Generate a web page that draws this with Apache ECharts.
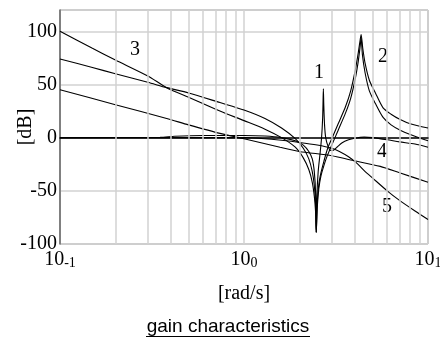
<!DOCTYPE html>
<html>
<head>
<meta charset="utf-8">
<script src="https://cdn.jsdelivr.net/npm/echarts@6.0.0/dist/echarts.min.js"></script>
<style>
  html, body { margin: 0; padding: 0; background: #fff; }
  #chart { width: 440px; height: 338px; }
</style>
</head>
<body>
<div id="chart"></div>
<script>
// 频率 [rad/s] 与增益 [dB]
const curve1Freq = [0.1, 0.35, 0.42, 0.6, 1.0, 1.3, 1.6, 1.9, 2.1, 2.25, 2.35, 2.41, 2.45, 2.47, 2.49, 2.53, 2.59, 2.64, 2.675, 2.69, 2.70, 2.715, 2.74, 2.78, 2.86, 2.95, 3.05, 3.2, 3.4, 3.7, 4.0, 4.5, 5.0, 6.0, 7.0, 8.5, 10]
const curve1Gain = [0, 0.3, 1.3, 2, 2, 1.5, 0, -3, -7, -13, -20, -32, -52, -89, -55, -32, -15, 0, 18, 35, 46, 30, 12, 0, -8, -12, -12, -9, -5, -2, -0.5, 0.5, 0, -2, -4, -6, -9]

const curve2Freq = [0.1, 0.15, 0.2, 0.3, 0.38, 0.5, 0.74, 1.0, 1.3, 1.6, 1.9, 2.1, 2.25, 2.35, 2.41, 2.45, 2.47, 2.5, 2.55, 2.62, 2.72, 2.85, 3.0, 3.25, 3.56, 3.8, 4.03, 4.18, 4.28, 4.33, 4.42, 4.55, 4.8, 5.18, 5.7, 6.3, 7.06, 8.0, 10]
const curve2Gain = [74, 66, 60, 52, 47, 42, 33, 26, 18, 9, -1, -10, -20, -32, -45, -62, -89, -62, -44, -33, -22, -10, -1, 13, 29, 44, 64, 80, 92, 97, 84, 70, 54, 42, 28, 22, 17, 13, 9]

const curve3Freq = [0.1, 0.15, 0.2, 0.3, 0.38, 0.5, 0.74, 1.0, 1.3, 1.6, 1.9, 2.1, 2.25, 2.35, 2.41, 2.45, 2.47, 2.5, 2.55, 2.62, 2.72, 2.85, 3.0, 3.25, 3.56, 3.8, 4.03, 4.18, 4.28, 4.33, 4.4, 4.55, 4.8, 5.18, 5.7, 6.3, 7.06, 8.0, 10]
const curve3Gain = [100, 84, 73, 58, 47, 38, 25, 16, 8, 0, -9, -19, -30, -42, -55, -70, -89, -66, -48, -36, -26, -16, -7, 7, 23, 37, 56, 72, 86, 94, 78, 61, 44, 32, 19, 12, 7, 3, -3]

const curve4Freq = [0.1, 0.2, 0.38, 0.5, 0.74, 1.0, 1.57, 2.0, 3.0, 3.8, 5.5, 7.0, 10]
const curve4Gain = [45, 31, 18, 12, 4, -1, -9, -13, -17, -21, -27, -33, -42]

const curve5Freq = [0.1, 0.5, 1.0, 1.3, 1.6, 2.0, 2.5, 3.0, 3.3, 3.7, 4.1, 4.5, 5.0, 6.0, 7.0, 8.5, 10]
const curve5Gain = [0, 0, 0, -1, -2.5, -4.5, -7, -10, -13, -18, -24, -31, -38, -50, -59, -69, -77]

// 对数轴的细分网格 (2..9 倍)
const minorGridFreq = [0.2, 0.3, 0.4, 0.5, 0.6, 0.7, 0.8, 0.9, 2, 3, 4, 5, 6, 7, 8, 9]

const serif = '"Liberation Serif", "DejaVu Serif", serif'
const gridColor = '#d2d2d2'

const zip = (xs, ys) => xs.map((x, i) => [x, ys[i]])

const curves = [
  zip(curve1Freq, curve1Gain),
  zip(curve2Freq, curve2Gain),
  zip(curve3Freq, curve3Gain),
  zip(curve4Freq, curve4Gain),
  zip(curve5Freq, curve5Gain)
]

const chart = echarts.init(document.getElementById('chart'))

const curveLabel = (text, x, y) => ({
  type: 'text',
  x: x,
  y: y,
  style: {
    text: text,
    font: '20px ' + serif,
    fill: '#000',
    align: 'center',
    verticalAlign: 'middle'
  }
})

const option = {
  animation: false,
  grid: {
    left: 60,
    right: 12,
    top: 10,
    bottom: 94,
    containLabel: false,
    outerBoundsMode: 'none',
    show: true,
    borderColor: '#8c8c8c',
    borderWidth: 1
  },
  xAxis: {
    type: 'log',
    logBase: 10,
    min: 0.1,
    max: 10,
    splitNumber: 2,
    axisLine: { lineStyle: { color: '#000', width: 1.5 } },
    axisTick: { show: false },
    splitLine: { show: true, lineStyle: { color: gridColor, width: 1.5 } },
    axisLabel: {
      margin: 6,
      formatter: function (v) {
        const e = Math.round(Math.log10(v))
        return '{b|10}{e|' + e + '}'
      },
      rich: {
        b: { fontFamily: serif, fontSize: 20, color: '#000', verticalAlign: 'bottom', lineHeight: 20 },
        e: { fontFamily: serif, fontSize: 14, color: '#000', verticalAlign: 'bottom', lineHeight: 20 }
      }
    },
    name: '[rad/s]',
    nameLocation: 'middle',
    nameGap: 40,
    nameMoveOverlap: false,
    nameTextStyle: { fontFamily: serif, fontSize: 20, color: '#000' }
  },
  yAxis: {
    type: 'value',
    min: -100,
    max: 120,
    interval: 50,
    axisLine: { show: true, lineStyle: { color: '#666', width: 1.5 } },
    axisTick: { show: false },
    splitLine: { show: true, lineStyle: { color: gridColor, width: 1.5 } },
    axisLabel: {
      margin: 3,
      fontFamily: serif,
      fontSize: 20,
      color: '#000',
      formatter: v => (v > 100 ? '' : String(v))
    },
    name: '[dB]',
    nameLocation: 'middle',
    nameGap: 24,
    nameRotate: 90,
    nameMoveOverlap: false,
    nameTextStyle: { fontFamily: serif, fontSize: 20, color: '#000' }
  },
  series: [
    {
      type: 'line',
      data: [],
      silent: true,
      z: 1,
      markLine: {
        silent: true,
        symbol: 'none',
        label: { show: false },
        lineStyle: { color: gridColor, width: 1.5, type: 'solid' },
        data: minorGridFreq.map(f => ({ xAxis: f }))
      }
    },
    ...curves.map(d => ({
      type: 'line',
      data: d,
      symbol: 'none',
      smooth: 0.25,
      lineStyle: { color: '#000', width: 1.1 }
    }))
  ],
  graphic: [
    curveLabel('3', 135, 50),
    curveLabel('1', 319, 73),
    curveLabel('2', 383, 57),
    curveLabel('4', 382, 152),
    curveLabel('5', 387, 207),
    {
      type: 'text',
      x: 228,
      y: 327,
      style: {
        text: 'gain characteristics',
        font: '19px "Liberation Sans", Arial, sans-serif',
        fill: '#000',
        align: 'center',
        verticalAlign: 'middle'
      }
    },
    {
      type: 'line',
      shape: { x1: 146, y1: 336.5, x2: 310, y2: 336.5 },
      style: { stroke: '#000', lineWidth: 1 }
    }
  ]
}

chart.setOption(option)
</script>
</body>
</html>
